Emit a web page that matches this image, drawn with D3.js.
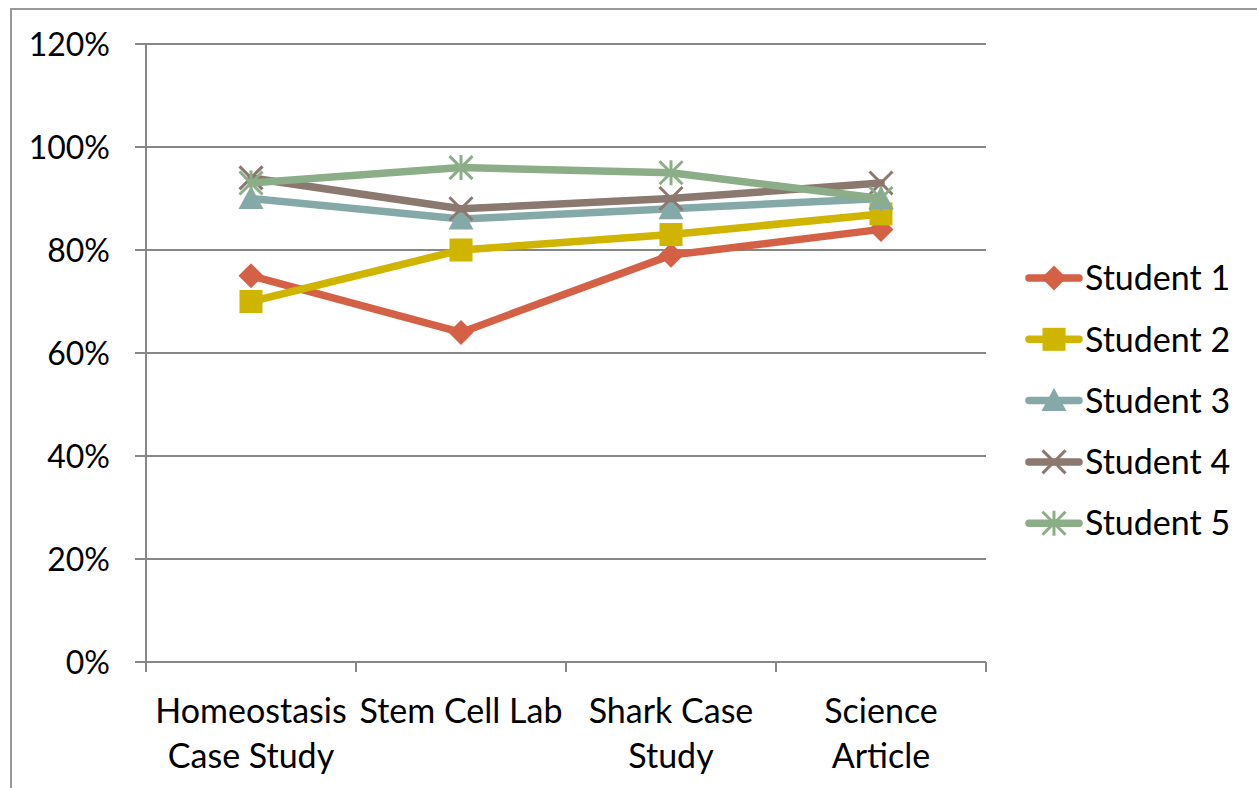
<!DOCTYPE html>
<html>
<head>
<meta charset="utf-8">
<script src="https://cdn.jsdelivr.net/npm/d3@7"></script>
<style>
  body { margin: 0; background: #fff; }
  svg { display: block; font-family: Lato, "Open Sans", sans-serif; }
</style>
</head>
<body>
<svg width="1257" height="788"></svg>
<script>
'use strict';
// chart data
const categories = [['Homeostasis', 'Case Study'], ['Stem Cell Lab'], ['Shark Case', 'Study'], ['Science', 'Article']];
const series_names = ['Student 1', 'Student 2', 'Student 3', 'Student 4', 'Student 5'];
const student1 = [0.75, 0.64, 0.79, 0.84];
const student2 = [0.70, 0.80, 0.83, 0.87];
const student3 = [0.90, 0.86, 0.88, 0.90];
const student4 = [0.94, 0.88, 0.90, 0.93];
const student5 = [0.93, 0.96, 0.95, 0.90];
const y_ticks = [0, 0.2, 0.4, 0.6, 0.8, 1.0, 1.2];

const series_values = [student1, student2, student3, student4, student5];
const colors = ['#d46145', '#cfb400', '#85a9a9', '#8b786e', '#8bad87'];
const shapes = ['diamond', 'square', 'triangle', 'x', 'star'];

const svg = d3.select('svg');

// outer frame
svg.append('rect')
  .attr('x', 11).attr('y', 9)
  .attr('width', 1300).attr('height', 900)
  .attr('fill', 'none').attr('stroke', '#999').attr('stroke-width', 2);

const plot = {left: 146, top: 44, right: 986, bottom: 662};

const x_scale = d3.scaleBand()
  .domain(d3.range(categories.length))
  .range([plot.left, plot.right]);

const y_scale = d3.scaleLinear()
  .domain([0, 1.2])
  .range([plot.bottom, plot.top]);

const g = svg.append('g');

// gridlines + y ticks
g.selectAll('line.grid').data(y_ticks).enter()
  .append('line')
    .attr('x1', plot.left - 11).attr('x2', plot.right)
    .attr('y1', d => y_scale(d)).attr('y2', d => y_scale(d))
    .attr('stroke', '#878787').attr('stroke-width', 2);

g.selectAll('text.ylab').data(y_ticks).enter()
  .append('text')
    .attr('x', 110)
    .attr('y', d => y_scale(d))
    .attr('dy', '0.36em')
    .attr('text-anchor', 'end')
    .attr('font-size', 32)
    .attr('fill', '#000')
    .text(d => d3.format('.0%')(d));

// y axis line
g.append('line')
  .attr('x1', plot.left).attr('x2', plot.left)
  .attr('y1', plot.top).attr('y2', plot.bottom + 10)
  .attr('stroke', '#878787').attr('stroke-width', 2);

// x tick marks at category boundaries
const boundaries = d3.range(categories.length + 1).map(i => i < categories.length ? x_scale(i) : x_scale.range()[1]);
g.selectAll('line.xtick').data(boundaries).enter()
  .append('line')
    .attr('x1', d => d).attr('x2', d => d)
    .attr('y1', plot.bottom).attr('y2', plot.bottom + 10)
    .attr('stroke', '#878787').attr('stroke-width', 2);

// category labels
const cx = i => x_scale(i) + x_scale.bandwidth() / 2;
const xl = g.selectAll('text.xlab').data(categories).enter()
  .append('text')
    .attr('text-anchor', 'middle')
    .attr('font-size', 34)
    .attr('fill', '#000');
xl.selectAll('tspan').data((d, i) => d.map(t => ({t, i}))).enter()
  .append('tspan')
    .attr('x', d => cx(d.i))
    .attr('y', (d, j) => 723 + j * 45)
    .text(d => d.t);

// marker drawing
function draw_marker(sel, shape, color, size) {
  const h = size / 2;
  if (shape === 'diamond') {
    sel.append('path').attr('d', `M0,${-h}L${h},0L0,${h}L${-h},0Z`).attr('fill', color);
  } else if (shape === 'square') {
    sel.append('rect').attr('x', -h + 1).attr('y', -h + 1).attr('width', size - 2).attr('height', size - 2).attr('fill', color);
  } else if (shape === 'triangle') {
    sel.append('path').attr('d', `M0,${-h}L${h},${h - 2}L${-h},${h - 2}Z`).attr('fill', color);
  } else if (shape === 'x') {
    const a = h - 1;
    sel.append('path').attr('d', `M${-a},${-a}L${a},${a}M${-a},${a}L${a},${-a}`)
      .attr('stroke', color).attr('stroke-width', 3).attr('fill', 'none');
  } else if (shape === 'star') {
    const a = h - 1;
    sel.append('path').attr('d', `M${-a},${-a}L${a},${a}M${-a},${a}L${a},${-a}M0,${-h}L0,${h}`)
      .attr('stroke', color).attr('stroke-width', 3).attr('fill', 'none');
  }
}

const line = d3.line()
  .x((d, i) => cx(i))
  .y(d => y_scale(d));

series_values.forEach((vals, s) => {
  const sg = g.append('g');
  sg.append('path')
    .datum(vals)
    .attr('d', line)
    .attr('fill', 'none')
    .attr('stroke', colors[s])
    .attr('stroke-width', 7.5)
    .attr('stroke-linejoin', 'round')
    .attr('stroke-linecap', 'round');
  vals.forEach((v, i) => {
    const m = sg.append('g').attr('transform', `translate(${cx(i)},${y_scale(v)})`);
    draw_marker(m, shapes[s], colors[s], 25);
  });
});

// legend
const legend = svg.append('g')
  .selectAll('g').data(series_names).enter()
  .append('g')
    .attr('transform', (d, i) => `translate(0,${278 + i * 61.3})`);

legend.append('line')
  .attr('x1', 1029).attr('x2', 1079)
  .attr('y1', 0).attr('y2', 0)
  .attr('stroke', (d, i) => colors[i])
  .attr('stroke-width', 7.5)
  .attr('stroke-linecap', 'round');

legend.each(function(d, i) {
  const m = d3.select(this).append('g').attr('transform', 'translate(1054,0)');
  draw_marker(m, shapes[i], colors[i], 25);
});

legend.append('text')
  .attr('x', 1085)
  .attr('y', 0)
  .attr('dy', '0.36em')
  .attr('font-size', 34)
  .attr('fill', '#000')
  .text(d => d);
</script>
</body>
</html>
